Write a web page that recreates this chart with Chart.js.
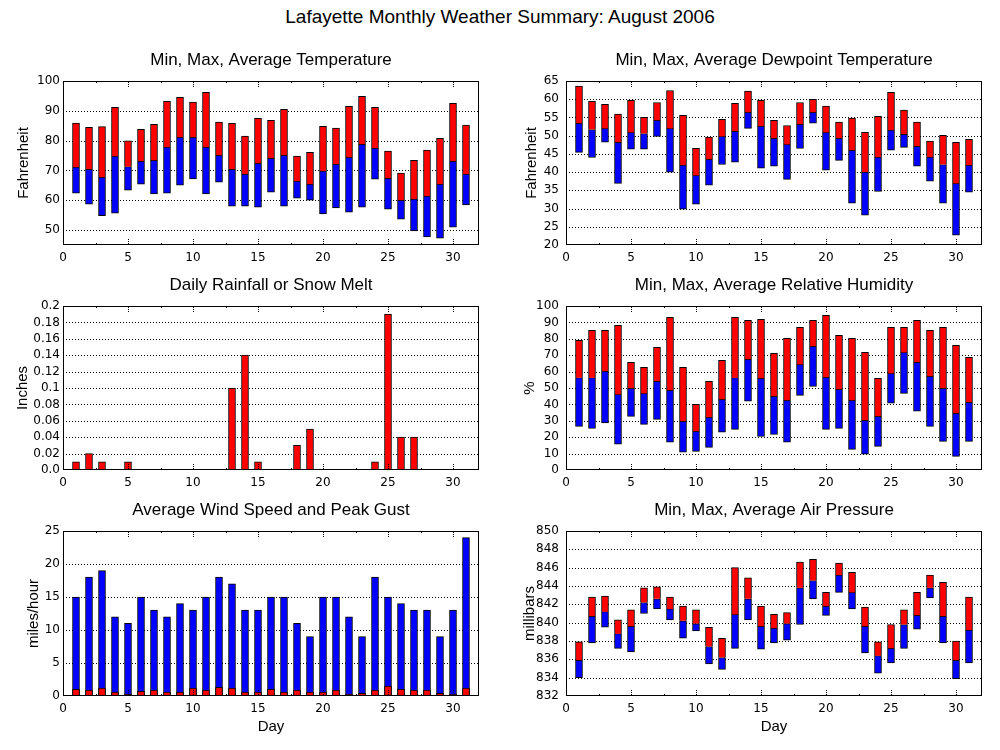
<!DOCTYPE html>
<html>
<head>
<meta charset="utf-8">
<title>Lafayette Monthly Weather Summary: August 2006</title>
<script src="https://cdn.jsdelivr.net/npm/chart.js@4.4.1/dist/chart.umd.min.js"></script>
<style>
  body { margin: 0; background: #fff; }
  #page { position: relative; width: 1000px; height: 750px; overflow: hidden; background: #fff; }
  #mainTitle { position: absolute; left: 0; top: 6px; width: 1000px; text-align: center;
    font: 19px "Liberation Sans", Arial, sans-serif; line-height: 22px; color: #000; }
  canvas { position: absolute; }
</style>
</head>
<body>
<div id="page">
  <div id="mainTitle">Lafayette Monthly Weather Summary: August 2006</div>
  <canvas id="temp" width="490" height="230" style="left:0;top:40px"></canvas>
  <canvas id="dew" width="510" height="230" style="left:490px;top:40px"></canvas>
  <canvas id="rain" width="490" height="230" style="left:0;top:265px"></canvas>
  <canvas id="rh" width="510" height="230" style="left:490px;top:265px"></canvas>
  <canvas id="wind" width="490" height="256" style="left:0;top:490px"></canvas>
  <canvas id="pres" width="510" height="256" style="left:490px;top:490px"></canvas>
</div>
<script>
(() => {
  'use strict'

  const days = [1,2,3,4,5,6,7,8,9,10,11,12,13,14,15,16,17,18,19,20,21,22,23,24,25,26,27,28,29,30,31];
  const dayTicks = [0, 5, 10, 15, 20, 25, 30];

  // temperature, F
  const tempMax = [85.9,84.5,84.7,91.2,79.9,83.8,85.5,93.2,94.5,92.9,96.2,86.2,85.8,81.5,87.5,86.8,90.5,74.8,76.1,84.8,84.2,91.5,94.9,91.2,76.5,69.1,73.4,76.8,80.8,92.5,85.2];
  const tempAvg = [71.1,70.4,67.7,74.8,71.3,73.1,73.4,77.8,81.1,81.1,77.8,75.1,70.4,68.8,72.4,74.1,75.1,66.4,65.4,69.8,72.1,74.4,78.8,77.5,67.4,60.0,60.4,61.4,65.4,73.1,68.8];
  const tempMin = [62.4,58.7,54.8,55.7,63.4,65.4,62.1,62.4,65.1,67.2,62.1,66.1,58.0,58.0,57.7,62.7,58.0,60.7,60.0,55.4,57.4,56.0,57.7,67.1,57.0,53.7,49.7,47.7,47.3,51.0,58.4];
  const tempTicks = [50, 60, 70, 80, 90, 100];

  // dewpoint, F
  const dewMax = [63.6,59.4,58.6,55.9,59.7,55.0,59.1,62.4,55.6,46.5,49.6,54.5,58.9,62.2,59.7,54.2,52.8,59.1,60.0,58.1,53.7,54.8,50.9,55.3,61.9,57.0,53.7,48.5,50.1,48.2,49.0];
  const dewAvg = [53.4,51.7,52.0,48.2,50.9,50.6,54.2,52.0,41.9,39.1,43.5,49.8,51.2,56.4,52.6,49.3,47.6,53.1,56.4,50.9,49.3,46.0,40.0,44.1,51.5,50.4,47.1,44.1,42.1,36.9,41.9];
  const dewMin = [45.4,44.0,48.2,36.9,46.3,46.3,49.8,40.0,29.8,31.2,36.4,42.1,42.7,52.0,41.1,41.6,38.0,46.5,53.4,40.5,43.2,31.5,28.2,34.7,46.0,46.8,41.6,37.5,31.5,22.7,34.5];
  const dewTicks = [20, 25, 30, 35, 40, 45, 50, 55, 60, 65];

  // rain, inches
  const rain = [0.01,0.02,0.01,0,0.01,0,0,0,0,0,0,0,0.10,0.14,0.01,0,0,0.03,0.05,0,0,0,0,0.01,0.19,0.04,0.04,0,0,0,0];
  const rainTicks = [0, 0.02, 0.04, 0.06, 0.08, 0.1, 0.12, 0.14, 0.16, 0.18, 0.2];
  const rainTickLabels = ['0.0','0.02','0.04','0.06','0.08','0.1','0.12','0.14','0.16','0.18','0.2'];

  // relative humidity, %
  const rhMax = [79.1,85.2,85.2,88.2,65.7,62.6,74.8,93.1,62.6,40.0,54.1,66.9,93.1,91.3,91.9,71.1,80.3,87.0,91.3,94.3,82.1,80.3,71.7,55.9,87.0,87.0,91.3,85.2,87.0,76.0,68.7];
  const rhAvg = [56.3,56.3,60.2,46.1,49.8,46.7,54.1,48.6,29.7,23.6,32.1,43.1,56.3,67.5,55.9,44.9,42.5,64.4,75.4,56.5,49.2,42.5,30.3,32.7,58.9,71.7,65.7,57.1,49.8,34.6,41.3];
  const rhMin = [26.6,25.4,28.7,15.7,32.7,27.8,30.9,16.9,10.8,11.4,13.8,23.0,24.8,41.9,20.5,21.7,16.9,45.5,51.0,24.8,25.4,12.6,9.6,14.4,40.7,46.7,35.8,26.6,17.5,8.3,17.5];
  const rhTicks = [0, 10, 20, 30, 40, 50, 60, 70, 80, 90, 100];

  // wind, mph
  const windGust = [15,18,19,12,11,15,13,12,14,13,15,18,17,13,13,15,15,11,9,15,15,12,9,18,15,14,13,13,9,13,24];
  const windAvg = [1.0,0.9,1.2,0.6,0.3,0.7,0.9,0.6,0.6,1.2,0.9,1.3,1.2,0.6,0.6,1.0,0.6,0.9,0.6,0.6,0.9,0.3,0.4,0.9,1.5,1.0,0.9,0.9,0.4,0.3,1.2];
  const windTicks = [0, 5, 10, 15, 20, 25];

  // pressure, mb
  const presMax = [837.9,842.8,842.9,840.3,841.4,843.8,843.9,842.8,841.8,841.4,839.5,838.3,846.0,844.9,841.8,840.9,841.1,846.6,846.9,843.3,846.5,845.5,841.7,837.9,839.8,841.4,843.3,845.2,844.4,838.0,842.8];
  const presAvg = [835.9,840.7,841.2,838.8,839.6,842.2,842.6,841.5,840.2,839.9,837.4,836.2,840.9,842.6,839.6,839.4,839.9,843.8,844.6,841.8,845.2,843.3,839.6,836.4,837.2,839.8,840.8,843.8,840.7,835.9,839.2];
  const presMin = [834.0,837.8,839.5,837.2,836.8,841.0,841.5,840.3,838.3,839.1,835.5,834.9,837.2,840.3,837.1,837.8,838.1,839.8,842.6,840.8,843.3,841.5,836.7,834.5,835.6,837.2,839.3,842.7,837.8,833.9,835.6];
  const presTicks = [832, 834, 836, 838, 840, 842, 844, 846, 848, 850];

  const RED = '#ff0000';
  const BLUE = '#0000ff';
  const tickFont = { family: 'DejaVu Sans', size: 12 };
  const labelFont = { family: 'Liberation Sans', size: 15 };

  // floating bar [lo, hi] per day
  function span(lo, hi) {
    return days.map((d, i) => ({ x: d, y: [lo[i], hi[i]] }));
  }

  function rangeSets(lo, avg, hi) {
    return [
      { data: span(avg, hi), backgroundColor: RED, borderColor: '#000', borderWidth: 1, borderSkipped: 'start' },
      { data: span(lo, avg), backgroundColor: BLUE, borderColor: '#000', borderWidth: 1, borderSkipped: false }
    ];
  }

  // dotted horizontal grid (behind the bars), box and the small inward ticks
  const frame = {
    id: 'frame',
    beforeDatasetsDraw(chart) {
      const { ctx, chartArea: a, scales: { y } } = chart;
      ctx.save();
      ctx.strokeStyle = '#000';
      ctx.lineWidth = 1;
      ctx.setLineDash([1, 2]);
      y.ticks.forEach(t => {
        if (t.value <= y.min || t.value >= y.max) return;
        const py = Math.round(y.getPixelForValue(t.value)) + 0.5;
        ctx.beginPath();
        ctx.moveTo(a.left, py);
        ctx.lineTo(a.right, py);
        ctx.stroke();
      });
      ctx.restore();
    },
    afterDatasetsDraw(chart) {
      const { ctx, chartArea: a, scales: { x } } = chart;
      ctx.save();
      ctx.strokeStyle = '#000';
      ctx.lineWidth = 1;
      ctx.strokeRect(Math.round(a.left) + 0.5, Math.round(a.top) + 0.5,
        Math.round(a.right - a.left) - 1, Math.round(a.bottom - a.top) - 1);
      ctx.setLineDash([1, 1]);
      dayTicks.forEach(v => {
        [[v, 5], [v + 2.5, 1]].forEach(([t, len]) => {
          if (t <= x.min || t >= x.max) return;
          const px = Math.round(x.getPixelForValue(t)) + 0.5;
          ctx.beginPath();
          ctx.moveTo(px, a.bottom - 1);
          ctx.lineTo(px, a.bottom - 1 - len);
          ctx.moveTo(px, a.top + 1);
          ctx.lineTo(px, a.top + 1 + len);
          ctx.stroke();
        });
      });
      ctx.restore();
    }
  };

  function panel(id, p) {
    new Chart(document.getElementById(id), {
      type: 'bar',
      data: { datasets: p.datasets },
      plugins: [frame],
      options: {
        responsive: false,
        animation: false,
        devicePixelRatio: 1,
        grouped: false,
        barThickness: 7,
        layout: { padding: { left: 0, right: p.right, top: 0, bottom: 0 } },
        plugins: {
          legend: { display: false },
          tooltip: { enabled: false },
          title: {
            display: true,
            text: p.title,
            fullSize: false,
            color: '#000',
            font: { family: 'Liberation Sans', size: 17, weight: 'normal' },
            padding: { top: 10, bottom: 10.6 }
          }
        },
        scales: {
          x: {
            type: 'linear',
            bounds: 'data',
            min: 0,
            max: 32,
            offset: false,
            grid: { display: false, drawTicks: false },
            border: { display: false },
            afterBuildTicks: s => { s.ticks = dayTicks.map(v => ({ value: v })); },
            afterFit: s => { s.height = p.xh; },
            ticks: { color: '#000', font: tickFont, padding: 6, maxRotation: 0, autoSkip: false },
            title: p.day
              ? { display: true, text: 'Day', color: '#000', font: labelFont, padding: { top: 0, bottom: 10 } }
              : { display: false }
          },
          y: {
            bounds: 'data',
            min: p.yMin !== undefined ? p.yMin : p.yTicks[0],
            max: p.yTicks[p.yTicks.length - 1],
            grid: { display: false, drawTicks: false },
            border: { display: false },
            afterBuildTicks: s => { s.ticks = p.yTicks.map(v => ({ value: v })); },
            afterFit: s => { s.width = p.yw; },
            ticks: {
              color: '#000', font: tickFont, padding: p.tickPad, autoSkip: false,
              callback: (v, i) => p.yLabels ? p.yLabels[i] : String(v)
            },
            title: { display: true, text: p.yTitle, color: '#000', font: labelFont, padding: { top: p.titlePad, bottom: 0 } }
          }
        }
      }
    });
  }

  panel('temp', {
    title: 'Min, Max, Average Temperature', yTitle: 'Fahrenheit',
    datasets: rangeSets(tempMin, tempAvg, tempMax),
    yTicks: tempTicks, yMin: 45, yw: 63, right: 11, xh: 25, tickPad: 3, titlePad: 15
  });

  panel('dew', {
    title: 'Min, Max, Average Dewpoint Temperature', yTitle: 'Fahrenheit',
    datasets: rangeSets(dewMin, dewAvg, dewMax),
    yTicks: dewTicks, yw: 76, right: 18, xh: 25, tickPad: 7, titlePad: 33
  });

  panel('rain', {
    title: 'Daily Rainfall or Snow Melt', yTitle: 'Inches',
    datasets: [{
      data: days.map((d, i) => ({ x: d, y: rain[i] || null })),
      backgroundColor: RED, borderColor: '#000', borderWidth: 1, borderSkipped: false
    }],
    yTicks: rainTicks, yLabels: rainTickLabels, yw: 63, right: 11, xh: 25, tickPad: 3, titlePad: 14
  });

  panel('rh', {
    title: 'Min, Max, Average Relative Humidity', yTitle: '%',
    datasets: rangeSets(rhMin, rhAvg, rhMax),
    yTicks: rhTicks, yw: 76, right: 18, xh: 25, tickPad: 7, titlePad: 31
  });

  panel('wind', {
    title: 'Average Wind Speed and Peak Gust', yTitle: 'miles/hour',
    datasets: [
      { data: span(days.map(() => 0), windAvg), backgroundColor: RED, borderColor: '#000', borderWidth: 1, borderSkipped: false },
      { data: span(days.map(() => 0), windGust), backgroundColor: BLUE, borderColor: '#000', borderWidth: 1, borderSkipped: false }
    ],
    yTicks: windTicks, yw: 63, right: 11, xh: 50, day: true, tickPad: 3, titlePad: 25
  });

  panel('pres', {
    title: 'Min, Max, Average Air Pressure', yTitle: 'millibars',
    datasets: rangeSets(presMin, presAvg, presMax),
    yTicks: presTicks, yw: 76, right: 18, xh: 50, day: true, tickPad: 7, titlePad: 31
  });
})();
</script>
</body>
</html>
